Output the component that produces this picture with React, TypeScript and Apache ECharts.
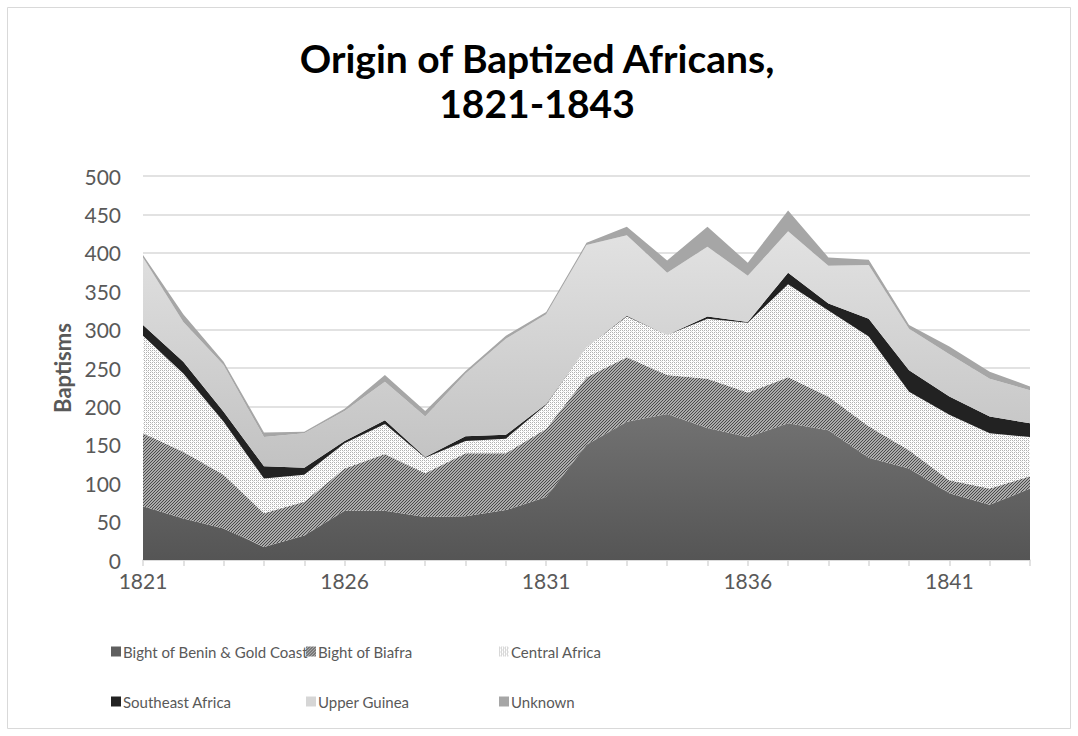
import React, { useEffect, useRef } from "react";
import * as echarts from "echarts";

const years = [
  "1821", "1822", "1823", "1824", "1825", "1826", "1827", "1828", "1829", "1830", "1831", "1832",
  "1833", "1834", "1835", "1836", "1837", "1838", "1839", "1840", "1841", "1842", "1843",
];
const beninGoldCoast = [70, 54, 41, 17, 32, 64, 64, 56, 57, 65, 82, 150, 180, 190, 172, 160, 178, 169, 133, 119, 87, 72, 93];
const bightOfBiafra = [95, 87, 70, 44, 44, 55, 74, 57, 82, 74, 89, 88, 84, 51, 64, 58, 60, 44, 41, 24, 17, 21, 16];
const centralAfrica = [127, 102, 69, 45, 35, 33, 39, 20, 16, 19, 31, 39, 53, 52, 78, 91, 121, 112, 117, 76, 85, 72, 51];
const southeastAfrica = [14, 15, 13, 16, 9, 3, 5, 1, 6, 5, 1, 0, 1, 0, 3, 1, 15, 9, 23, 28, 24, 22, 18];
const upperGuinea = [88, 52, 61, 38, 45, 39, 50, 53, 82, 125, 117, 133, 105, 81, 91, 60, 54, 49, 70, 54, 55, 49, 43];
const unknown = [3, 10, 4, 6, 2, 3, 9, 7, 3, 4, 3, 3, 11, 16, 26, 17, 27, 11, 7, 5, 10, 9, 5];
const seriesNames = [
  "Bight of Benin & Gold Coast",
  "Bight of Biafra",
  "Central Africa",
  "Southeast Africa",
  "Upper Guinea",
  "Unknown",
];

const FONT = "Lato";

function makePattern(kind: "hatch" | "dots") {
  const c = document.createElement("canvas");
  const n = kind === "hatch" ? 3 : 4;
  c.width = n;
  c.height = n;
  const ctx = c.getContext("2d")!;
  if (kind === "hatch") {
    ctx.fillStyle = "#ababab";
    ctx.fillRect(0, 0, n, n);
    ctx.fillStyle = "#4a4a4a";
    for (let x = 0; x < n; x++) for (let y = 0; y < n; y++) if ((x + y) % 3 === 0) ctx.fillRect(x, y, 1, 1);
  } else {
    ctx.fillStyle = "#ffffff";
    ctx.fillRect(0, 0, n, n);
    ctx.fillStyle = "#b0b0b0";
    for (let x = 0; x < 4; x += 2) for (let y = 0; y < 4; y += 2) ctx.fillRect(x, y, 1, 1);
    ctx.fillStyle = "#dcdcdc";
    ctx.fillRect(1, 1, 1, 1);
    ctx.fillRect(3, 3, 1, 1);
  }
  return { image: c, repeat: "repeat", imageWidth: n, imageHeight: n } as any;
}

export default function App() {
  const ref = useRef<HTMLDivElement>(null);
  useEffect(() => {
    const chart = echarts.init(ref.current!, null, { renderer: "svg" });
    const hatch = makePattern("hatch");
    const dots = makePattern("dots");
    const colors: any[] = [
      new echarts.graphic.LinearGradient(0, 0, 0, 1, [
        { offset: 0, color: "#727272" },
        { offset: 1, color: "#555555" },
      ]),
      hatch,
      dots,
      "#222222",
      new echarts.graphic.LinearGradient(0, 0, 0, 1, [
        { offset: 0, color: "#e2e2e2" },
        { offset: 1, color: "#c2c2c2" },
      ]),
      "#a6a6a6",
    ];
    const legendColors = ["#5f5f5f", hatch, dots, "#222222", "#d6d6d6", "#a6a6a6"];
    const datasets = [beninGoldCoast, bightOfBiafra, centralAfrica, southeastAfrica, upperGuinea, unknown];
    const legendPos = [
      [106, 639],
      [301, 639],
      [494, 639],
      [106, 689],
      [301, 689],
      [494, 689],
    ];
    chart.setOption({
      animation: false,
      backgroundColor: "#ffffff",
      title: {
        text: "Origin of Baptized Africans,\n1821-1843",
        left: 532,
        textAlign: "center",
        top: 30,
        textStyle: { fontFamily: FONT, fontWeight: "bold", fontSize: 39, lineHeight: 45, color: "#000000" },
      },
      graphic: [
        {
          type: "rect",
          shape: { x: 7.5, y: 7.5, width: 1063, height: 721 },
          style: { fill: "none", stroke: "#d9d9d9", lineWidth: 1 },
          silent: true,
        },
      ],
      legend: seriesNames.map((n, i) => ({
        data: [{ name: n, itemStyle: { color: legendColors[i] } }],
        left: legendPos[i][0],
        top: legendPos[i][1],
        itemWidth: 10,
        itemHeight: 10,
        itemGap: 0,
        icon: "rect",
        textStyle: { fontFamily: FONT, fontSize: 15, color: "#595959", padding: [0, 0, 0, -3] },
      })),
      grid: { left: 143, right: 48, top: 176, bottom: 176 },
      xAxis: {
        type: "category",
        data: years,
        boundaryGap: false,
        axisLine: { lineStyle: { color: "#d9d9d9", width: 1.5 } },
        axisTick: { show: true, interval: 0, length: 6, lineStyle: { color: "#d9d9d9", width: 1.5 } },
        axisLabel: { interval: 4, margin: 10, fontFamily: FONT, fontSize: 21, color: "#595959" },
        splitLine: { show: false },
      },
      yAxis: {
        type: "value",
        min: 0,
        max: 500,
        interval: 50,
        name: "Baptisms",
        nameLocation: "middle",
        nameGap: 70,
        nameTextStyle: { fontFamily: FONT, fontWeight: "bold", fontSize: 22, color: "#595959" },
        axisLine: { show: false },
        axisTick: { show: false },
        axisLabel: { margin: 22, fontFamily: FONT, fontSize: 21, color: "#595959" },
        splitLine: { lineStyle: { color: "#d9d9d9", width: 1.5 } },
      },
      series: seriesNames.map((n, i) => ({
        name: n,
        type: "line",
        stack: "total",
        data: datasets[i],
        symbol: "none",
        lineStyle: { width: 0 },
        itemStyle: { color: legendColors[i] },
        areaStyle: { color: colors[i], opacity: 1 },
      })),
    });
    return () => chart.dispose();
  }, []);
  return (
    <div
      ref={ref}
      style={{ position: "absolute", left: 0, top: 0, width: 1078, height: 736 }}
    />
  );
}
